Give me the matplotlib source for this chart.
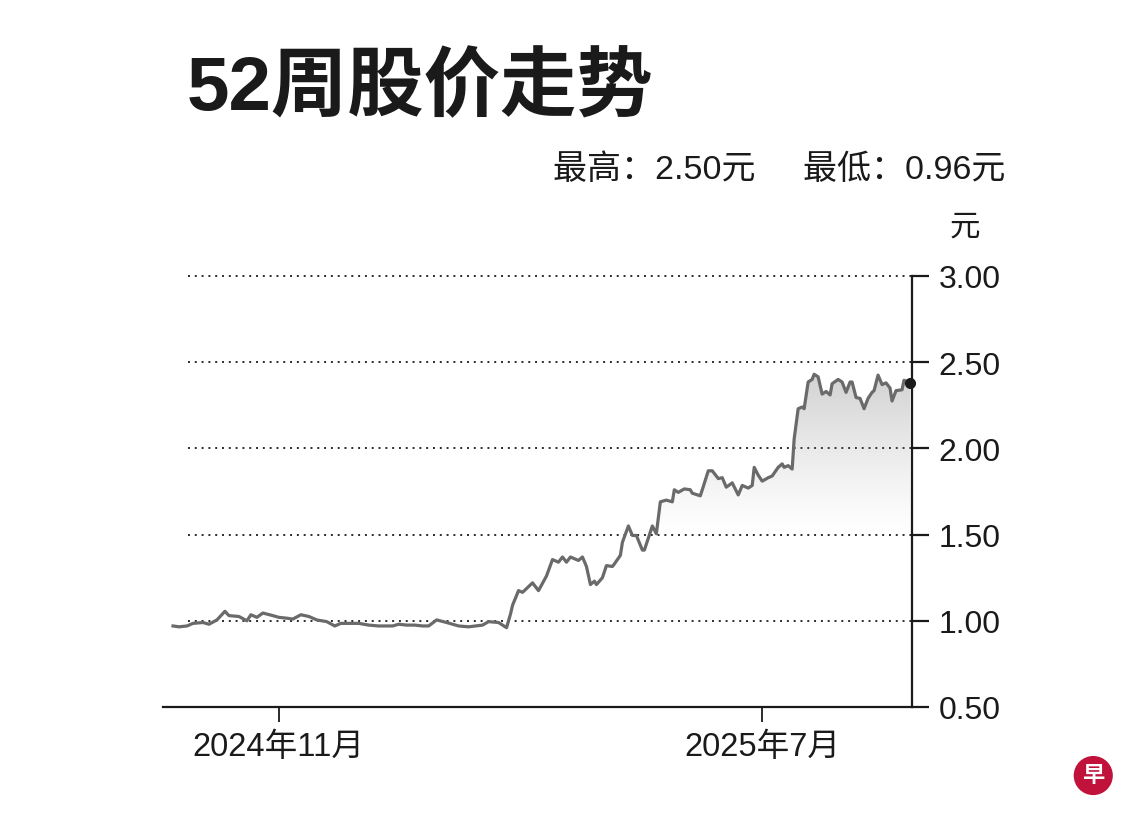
import numpy as np
import pandas as pd
import matplotlib
matplotlib.use('Agg')
import matplotlib.pyplot as plt
import matplotlib.dates as mdates

plt.rcParams['font.family'] = ['Liberation Sans', 'Noto Sans CJK SC', 'DejaVu Sans']

### Data
dates = [
    '2024-09-09', '2024-09-12', '2024-09-16', '2024-09-19', '2024-09-24', '2024-09-27',
    '2024-10-01', '2024-10-05', '2024-10-07', '2024-10-12', '2024-10-16', '2024-10-18',
    '2024-10-21', '2024-10-24', '2024-10-29', '2024-11-01', '2024-11-05', '2024-11-08',
    '2024-11-12', '2024-11-16', '2024-11-20', '2024-11-25', '2024-11-29', '2024-12-02',
    '2024-12-06', '2024-12-11', '2024-12-16', '2024-12-21', '2024-12-28', '2024-12-31',
    '2025-01-04', '2025-01-08', '2025-01-12', '2025-01-15', '2025-01-19', '2025-01-24',
    '2025-01-30', '2025-02-04', '2025-02-11', '2025-02-14', '2025-02-19', '2025-02-23',
    '2025-02-25', '2025-02-26', '2025-03-01', '2025-03-03', '2025-03-08', '2025-03-11',
    '2025-03-15', '2025-03-18', '2025-03-21', '2025-03-23', '2025-03-25', '2025-03-27',
    '2025-03-31', '2025-04-02', '2025-04-04', '2025-04-06', '2025-04-08', '2025-04-09',
    '2025-04-12', '2025-04-14', '2025-04-17', '2025-04-18', '2025-04-21', '2025-04-22',
    '2025-04-25', '2025-04-27', '2025-04-29', '2025-05-02', '2025-05-03', '2025-05-05',
    '2025-05-07', '2025-05-09', '2025-05-11', '2025-05-14', '2025-05-17', '2025-05-18',
    '2025-05-20', '2025-05-23', '2025-05-26', '2025-05-27', '2025-05-31', '2025-06-01',
    '2025-06-04', '2025-06-06', '2025-06-09', '2025-06-11', '2025-06-13', '2025-06-16',
    '2025-06-19', '2025-06-21', '2025-06-24', '2025-06-26', '2025-06-27', '2025-06-29',
    '2025-07-01', '2025-07-04', '2025-07-06', '2025-07-09', '2025-07-11', '2025-07-12',
    '2025-07-14', '2025-07-16', '2025-07-17', '2025-07-19', '2025-07-21', '2025-07-22',
    '2025-07-24', '2025-07-26', '2025-07-27', '2025-07-29', '2025-07-31', '2025-08-02',
    '2025-08-04', '2025-08-05', '2025-08-08', '2025-08-10', '2025-08-12', '2025-08-14',
    '2025-08-15', '2025-08-17', '2025-08-19', '2025-08-21', '2025-08-23', '2025-08-25',
    '2025-08-26', '2025-08-28', '2025-08-30', '2025-09-01', '2025-09-03', '2025-09-04',
    '2025-09-06', '2025-09-09', '2025-09-10', '2025-09-13',
]
prices = [
    0.97, 0.965, 0.97, 0.985, 0.99, 0.98,
    1.005, 1.055, 1.03, 1.025, 1.00, 1.035,
    1.02, 1.045, 1.03, 1.02, 1.015, 1.01,
    1.035, 1.025, 1.005, 0.995, 0.97, 0.985,
    0.985, 0.985, 0.975, 0.97, 0.97, 0.98,
    0.975, 0.975, 0.97, 0.97, 1.005, 0.99,
    0.97, 0.965, 0.975, 0.995, 0.99, 0.96,
    1.04, 1.09, 1.175, 1.165, 1.22, 1.175,
    1.26, 1.355, 1.34, 1.37, 1.34, 1.37,
    1.35, 1.37, 1.315, 1.21, 1.23, 1.21,
    1.25, 1.32, 1.315, 1.33, 1.38, 1.455,
    1.55, 1.495, 1.495, 1.41, 1.41, 1.48,
    1.55, 1.505, 1.69, 1.70, 1.69, 1.76,
    1.745, 1.765, 1.76, 1.74, 1.725, 1.76,
    1.87, 1.87, 1.825, 1.83, 1.775, 1.80,
    1.73, 1.785, 1.77, 1.785, 1.89, 1.845,
    1.81, 1.83, 1.84, 1.89, 1.91, 1.89,
    1.90, 1.88, 2.055, 2.23, 2.24, 2.23,
    2.385, 2.40, 2.43, 2.415, 2.315, 2.33,
    2.31, 2.375, 2.40, 2.385, 2.325, 2.385,
    2.385, 2.295, 2.29, 2.23, 2.29, 2.325,
    2.335, 2.425, 2.37, 2.38, 2.35, 2.275,
    2.335, 2.34, 2.395, 2.38,
]
yticks = [0.5, 1.0, 1.5, 2.0, 2.5, 3.0]
xtick_dates = ['2024-11-01', '2025-07-01']
xtick_labels = ['2024年11月', '2025年7月']
title = '52周股价走势'
high_low = '最高：2.50元     最低：0.96元'

x = mdates.date2num(pd.to_datetime(dates))
y = np.array(prices)

### Figure
fig = plt.figure(figsize=(11.4, 8.2), dpi=100)
ax = fig.add_axes([0.143, 0.1366, 0.657, 0.5256])

xlo = mdates.date2num(pd.Timestamp('2024-09-04'))
xhi = mdates.date2num(pd.Timestamp('2025-09-14'))
ax.set_xlim(xlo, xhi)
ax.set_ylim(0.5, 3.0)

## dotted grid lines
for v in yticks[1:]:
    ax.axhline(v, xmin=0.033, xmax=1, color='#2a2a2a', lw=1.4,
               linestyle=(0, (1, 2.5)), zorder=1, clip_on=False)

## gradient fill under the line
poly = ax.fill_between(x, y, 0.5, color='none', lw=0)
grad_y = np.linspace(0.5, 3.0, 300)
a = np.clip((grad_y - 1.5) / (2.45 - 1.5), 0, 1) ** 1.2 * 0.36
rgba = np.zeros((300, 1, 4))
rgba[..., :3] = 0.5
rgba[:, 0, 3] = a
im = ax.imshow(rgba, extent=[xlo, xhi, 0.5, 3.0], origin='lower',
               aspect='auto', zorder=2, interpolation='bilinear')
im.set_clip_path(poly.get_paths()[0], transform=ax.transData)

## price line + last point
ax.plot(x, y, color='#6a6a6a', lw=2.3, zorder=3, solid_joinstyle='round')
ax.plot(x[-1], y[-1], 'o', color='#1a1a1a', ms=7, zorder=4, clip_on=False)

## spines / ticks
for s in ['left', 'top']:
    ax.spines[s].set_visible(False)
for s in ['right', 'bottom']:
    ax.spines[s].set_linewidth(1.6)
    ax.spines[s].set_color('#1a1a1a')

ax.yaxis.tick_right()
ax.set_yticks(yticks)
ax.set_yticklabels([f'{v:.2f}' for v in yticks])
ax.tick_params(axis='y', length=12, width=1.6, pad=7, labelsize=23,
               color='#1a1a1a', labelcolor='#1a1a1a')
ax.set_xticks(mdates.date2num(pd.to_datetime(xtick_dates)))
ax.set_xticklabels(xtick_labels)
ax.tick_params(axis='x', length=11, width=1.3, pad=6, labelsize=23.5,
               color='#1a1a1a', labelcolor='#1a1a1a')
ax.patch.set_alpha(0)

### Texts
fig.text(0.164, 0.89, title, fontsize=55, fontweight='bold', color='#1a1a1a',
         ha='left', va='center')
fig.text(0.882, 0.792, high_low, fontsize=24.5, color='#1a1a1a',
         ha='right', va='center')
fig.text(0.846, 0.722, '元', fontsize=22, color='#1a1a1a',
         ha='center', va='center')

## logo
fig.text(0.959, 0.053, '早', fontsize=16, fontweight='bold', color='white',
         ha='center', va='center',
         bbox=dict(boxstyle='circle,pad=0.38', fc='#c0123a', ec='none'))

fig.savefig('out.png', dpi=100)
